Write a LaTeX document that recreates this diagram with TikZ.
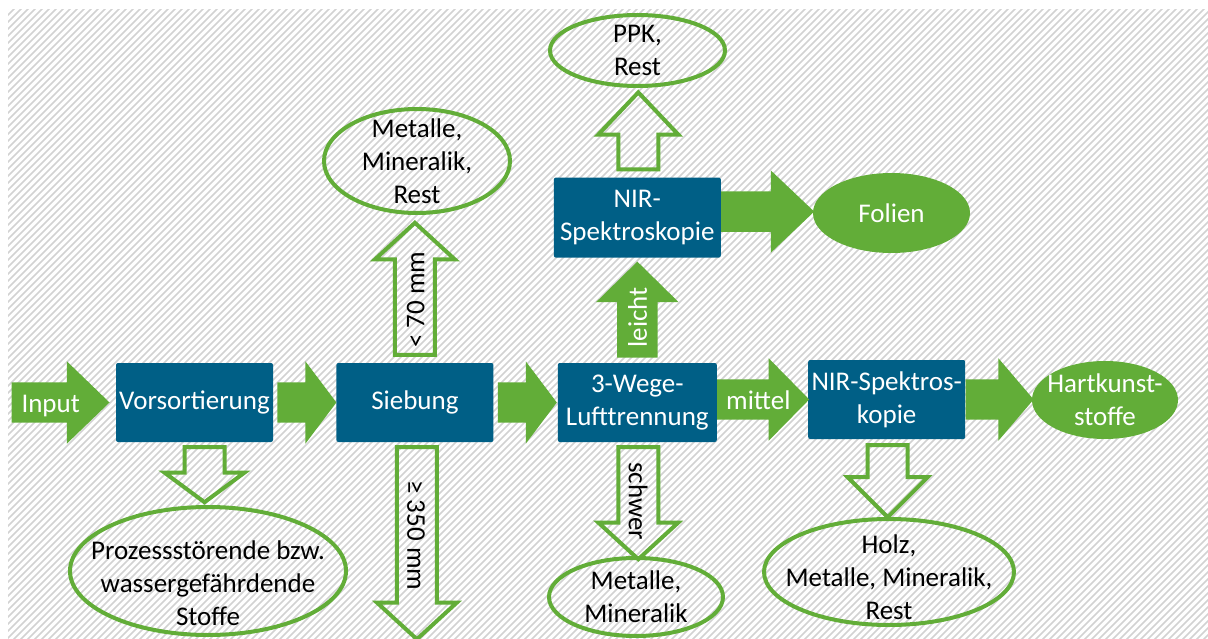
\documentclass[tikz,border=0pt]{standalone}
\usepackage{fontspec}
\setmainfont{Carlito}
\usetikzlibrary{shapes.arrows, shapes.geometric, positioning}
\definecolor{boxblue}{HTML}{005F86}
\definecolor{flowgreen}{HTML}{62AD38}
\definecolor{hatchgray}{HTML}{D2D2D2}
\tikzset{
  % Verfahrensschritt
  stepbox/.style={rectangle, rounded corners=2pt, fill=boxblue, text=white,
    minimum width=157pt, minimum height=79pt, align=center, inner sep=2pt},
  % Blockpfeil (Hauptstrom)
  fatarrow/.style={single arrow, fill=flowgreen, single arrow head extend=21pt,
    inner xsep=4pt, inner ysep=0pt, text height=28pt, text depth=12pt},
  % Blockpfeil (Ausschleusung)
  hollowarrow/.style={single arrow, draw=flowgreen, line width=4pt,
    single arrow head extend=20pt, inner xsep=4pt, inner ysep=0pt,
    text height=24pt, text depth=12pt},
  % Beschriftung auf den Pfeilen
  arrowlbl/.style={inner sep=0pt, text height=19pt, text depth=0pt},
  % Fraktionen
  outbox/.style={ellipse, draw=flowgreen, line width=4pt, inner sep=0pt},
  endbox/.style={ellipse, fill=flowgreen, inner sep=0pt},
  outtext/.style={align=center, text=black},
  endtext/.style={align=center, text=white},
}

\begin{document}
\begin{tikzpicture}[x=1pt, y=-1pt, every node/.style={font=\fontsize{27}{33}\selectfont}]
  % Hintergrund
  \useasboundingbox (0,0) rectangle (1208,639);
  \fill[white] (0,0) rectangle (1208,639);
  \begin{scope}
    \clip (8,10) rectangle (1208,639);
    \foreach \x in {-650,-643,...,1208}
      \draw[hatchgray, line width=1.5pt] (\x,645) -- ++(650,-650);
  \end{scope}

  % Verfahrensschritte
  \node[stepbox] (vor) at (194.5,402.5) {Vorsortierung};
  \node[stepbox, right=63pt of vor] (sieb) {Siebung};
  \node[stepbox, right=64pt of sieb, minimum width=159pt] (luft) {3-Wege-\\Lufttrennung};
  \node[stepbox, right=91pt of luft, yshift=3pt] (nir2) {NIR-Spektros-\\kopie};
  \node[stepbox, above=105pt of luft, minimum width=167pt, minimum height=80pt] (nir1) {NIR-\\Spektroskopie};

  % Hauptstrom
  \node[fatarrow, anchor=tip, minimum height=98pt, single arrow tip angle=88] (input) at ([xshift=-6pt]vor.west) {};
  \node[fatarrow, anchor=tail, minimum height=59pt, single arrow tip angle=106] (a1) at ([xshift=4pt]vor.east) {};
  \node[fatarrow, anchor=tail, minimum height=59pt, single arrow tip angle=106] (a2) at ([xshift=4pt]sieb.east) {};
  \node[fatarrow, anchor=tail, minimum height=92pt, single arrow tip angle=91] (mittel) at ([yshift=3pt]luft.east) {};
  \node[fatarrow, anchor=tail, minimum height=68pt, single arrow tip angle=99] (a3) at (nir2.east) {};
  \node[fatarrow, anchor=tail, minimum height=93pt, single arrow tip angle=87] (a4) at ([yshift=6pt]nir1.east) {};
  \node[fatarrow, rotate=90, anchor=tail, minimum height=96pt, single arrow tip angle=91] (leicht) at ([yshift=5pt]luft.north) {};
  \node[arrowlbl, text=white, anchor=west] (l-input) at ([xshift=10pt]input.tail) {Input};
  \node[arrowlbl, text=white, anchor=west] (l-mittel) at ([xshift=9pt]mittel.tail) {mittel};
  \node[arrowlbl, text=white, rotate=90, anchor=west] (l-leicht) at ([yshift=10pt]leicht.tail) {leicht};

  % Ausschleusungen
  \node[hollowarrow, rotate=-90, anchor=tail, minimum height=55pt, single arrow tip angle=107] (a5) at ([xshift=10pt, yshift=-3pt]vor.south) {};
  \node[hollowarrow, rotate=90, anchor=tail, minimum height=132pt, single arrow tip angle=95] (fein) at ([yshift=6pt]sieb.north) {};
  \node[hollowarrow, rotate=-90, anchor=tail, minimum height=192pt, single arrow tip angle=95] (grob) at ([xshift=2pt, yshift=-3pt]sieb.south) {};
  \node[hollowarrow, rotate=-90, anchor=tail, minimum height=112pt, single arrow tip angle=95] (schwer) at ([xshift=1pt, yshift=-3pt]luft.south) {};
  \node[hollowarrow, rotate=-90, anchor=tail, minimum height=72pt, single arrow tip angle=90] (a6) at ([xshift=1pt, yshift=-4pt]nir2.south) {};
  \node[hollowarrow, rotate=90, anchor=tail, minimum height=77pt, single arrow tip angle=87] (a7) at ([xshift=1pt, yshift=6pt]nir1.north) {};
  \node[arrowlbl, rotate=90, anchor=west] (l-fein) at ([yshift=9pt]fein.tail) {< 70 mm};
  \node[arrowlbl, rotate=-90, anchor=west] (l-grob) at ([yshift=-35pt]grob.tail) {≥ 350 mm};
  \node[arrowlbl, rotate=-90, anchor=west] (l-schwer) at ([yshift=-17pt]schwer.tail) {schwer};

  % Fraktionen
  \node[outbox, minimum width=276pt, minimum height=128pt] (stoffe) at (208,571) {};
  \node[outtext] at ([yshift=-12pt]stoffe.center) {Prozessstörende bzw.\\wassergefährdende\\Stoffe};
  \node[outbox, minimum width=186pt, minimum height=104pt] (rest1) at (417,161) {};
  \node[outtext] at (rest1) {Metalle,\\Mineralik,\\Rest};
  \node[outbox, minimum width=175pt, minimum height=71pt] (ppk) at (637.5,50.5) {};
  \node[outtext] at (ppk) {PPK,\\Rest};
  \node[outbox, minimum width=174pt, minimum height=78pt] (metmin) at (636,597) {};
  \node[outtext] at (metmin) {Metalle,\\Mineralik};
  \node[outbox, minimum width=250pt, minimum height=106pt] (holz) at (889,572) {};
  \node[outtext] at ([yshift=-5pt]holz.center) {Holz,\\Metalle, Mineralik,\\Rest};
  \node[endbox, minimum width=157pt, minimum height=80pt] (folien) at (891.5,213) {};
  \node[endtext] at (folien) {Folien};
  \node[endbox, minimum width=146pt, minimum height=78pt] (hart) at (1105,400) {};
  \node[endtext] at (hart) {Hartkunst-\\stoffe};
\end{tikzpicture}
\end{document}
